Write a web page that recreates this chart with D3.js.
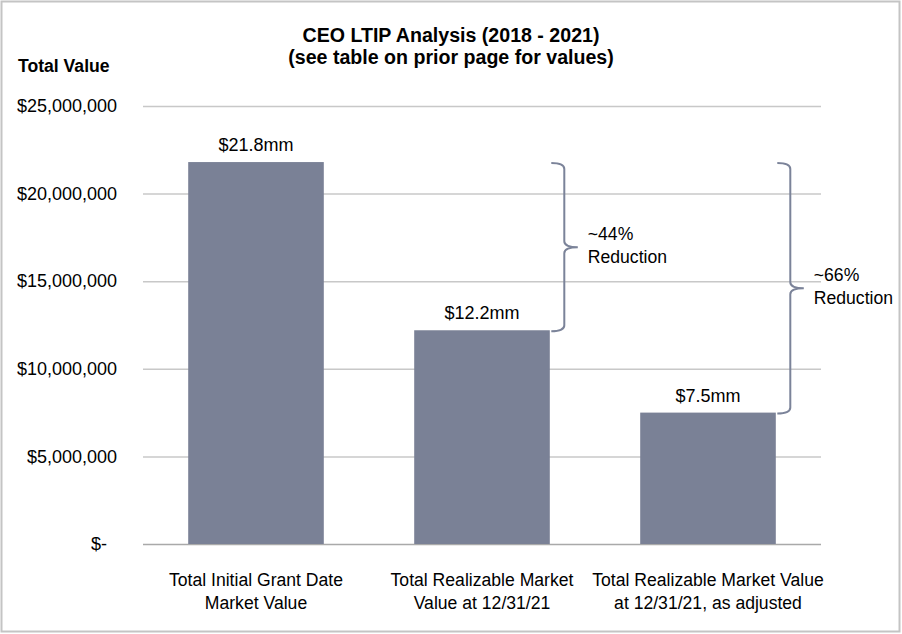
<!DOCTYPE html>
<html>
<head>
<meta charset="utf-8">
<script src="https://cdn.jsdelivr.net/npm/d3@7"></script>
<style>
    body { margin: 0; background: #fff; }
    svg text { font-family: "Liberation Sans", Arial, Helvetica, sans-serif; fill: #000; }
</style>
</head>
<body>
<div id="chart"></div>
<script>
const categories = [
    ["Total Initial Grant Date", "Market Value"],
    ["Total Realizable Market", "Value at 12/31/21"],
    ["Total Realizable Market Value", "at 12/31/21, as adjusted"]
];
const values = [21.8e6, 12.2e6, 7.5e6];
const valueLabels = ["$21.8mm", "$12.2mm", "$7.5mm"];
const tickValues = [0, 5e6, 10e6, 15e6, 20e6, 25e6];
const titleLines = ["CEO LTIP Analysis (2018 - 2021)", "(see table on prior page for values)"];
const braces = [
    {from: 0, to: 1, lines: ["~44%", "Reduction"]},
    {from: 0, to: 2, lines: ["~66%", "Reduction"]}
];

document.addEventListener('DOMContentLoaded', function() {
    drawChart();
});

function drawChart() {
    const width = 902, height = 634;
    const plot = {left: 143, right: 821, top: 106, bottom: 544};
    const barColor = "#7a8196";

    const svg = d3.select("#chart").append("svg")
        .attr("width", width)
        .attr("height", height);

    svg.append("rect")
        .attr("x", 1.5).attr("y", 1.5)
        .attr("width", width - 4).attr("height", height - 4)
        .attr("fill", "#fff")
        .attr("stroke", "#c4c4c4")
        .attr("stroke-width", 2);

    const x = d3.scaleBand()
        .domain(d3.range(categories.length))
        .range([plot.left, plot.right])
        .paddingInner(0.4)
        .paddingOuter(0.2);

    const y = d3.scaleLinear()
        .domain([0, 25e6])
        .range([plot.bottom, plot.top]);

    // title
    svg.append("text")
        .attr("x", width / 2)
        .attr("text-anchor", "middle")
        .style("font-size", "19.6px")
        .style("font-weight", "bold")
        .selectAll("tspan")
        .data(titleLines)
        .enter().append("tspan")
        .attr("x", width / 2)
        .attr("y", (d, i) => 42 + i * 22)
        .text(d => d);

    svg.append("text")
        .attr("x", 18).attr("y", 72)
        .style("font-size", "17.6px")
        .style("font-weight", "bold")
        .text("Total Value");

    // y axis + grid
    const yAxis = svg.append("g")
        .attr("transform", `translate(${plot.left},0)`)
        .call(d3.axisLeft(y)
            .tickValues(tickValues)
            .tickSizeInner(-(plot.right - plot.left))
            .tickSizeOuter(0)
            .tickPadding(26)
            .tickFormat(d => d === 0 ? "$-" : "$" + d3.format(",")(d)));

    yAxis.select(".domain").remove();
    yAxis.selectAll(".tick line")
        .attr("stroke", d => d === 0 ? "#a9a9a9" : "#c8c8c8")
        .attr("stroke-width", 1.5);
    yAxis.selectAll(".tick text")
        .style("font-size", "18px")
        .attr("fill", "#000")
        .filter(d => d === 0)
        .attr("x", -36);

    // bars
    svg.selectAll(".bar")
        .data(values)
        .enter().append("rect")
        .attr("class", "bar")
        .attr("x", (d, i) => x(i))
        .attr("width", x.bandwidth())
        .attr("y", d => y(d))
        .attr("height", d => y(0) - y(d))
        .attr("fill", barColor);

    svg.selectAll(".value-label")
        .data(values)
        .enter().append("text")
        .attr("class", "value-label")
        .attr("x", (d, i) => x(i) + x.bandwidth() / 2)
        .attr("y", d => y(d) - 11)
        .attr("text-anchor", "middle")
        .style("font-size", "18px")
        .text((d, i) => valueLabels[i]);

    // category labels
    const cat = svg.selectAll(".cat-label")
        .data(categories)
        .enter().append("text")
        .attr("class", "cat-label")
        .attr("text-anchor", "middle")
        .style("font-size", "17.6px");

    cat.selectAll("tspan")
        .data((d, i) => d.map(t => ({t, i})))
        .enter().append("tspan")
        .attr("x", d => x(d.i) + x.bandwidth() / 2)
        .attr("y", (d, j) => 585.5 + j * 23.5)
        .text(d => d.t);

    // braces
    braces.forEach(b => {
        const top = y(values[b.from]) + 1;
        const bottom = y(values[b.to]) + 1;
        const mid = (top + bottom) / 2;
        const right = x(b.to) + x.bandwidth();
        const x0 = right + 1.5, xv = right + 14.5, xt = right + 28;
        const r = 6;

        const p = d3.path();
        p.moveTo(x0, top);
        p.quadraticCurveTo(xv, top, xv, top + r);
        p.lineTo(xv, mid - r);
        p.quadraticCurveTo(xv, mid, xt, mid);
        p.quadraticCurveTo(xv, mid, xv, mid + r);
        p.lineTo(xv, bottom - r);
        p.quadraticCurveTo(xv, bottom, x0, bottom);

        svg.append("path")
            .attr("d", p.toString())
            .attr("fill", "none")
            .attr("stroke", "#7b8399")
            .attr("stroke-width", 2);

        svg.append("text")
            .style("font-size", "17.6px")
            .selectAll("tspan")
            .data(b.lines)
            .enter().append("tspan")
            .attr("x", xt + 10)
            .attr("y", (d, i) => mid - 7 + i * 23)
            .text(d => d);
    });
}
</script>
</body>
</html>
